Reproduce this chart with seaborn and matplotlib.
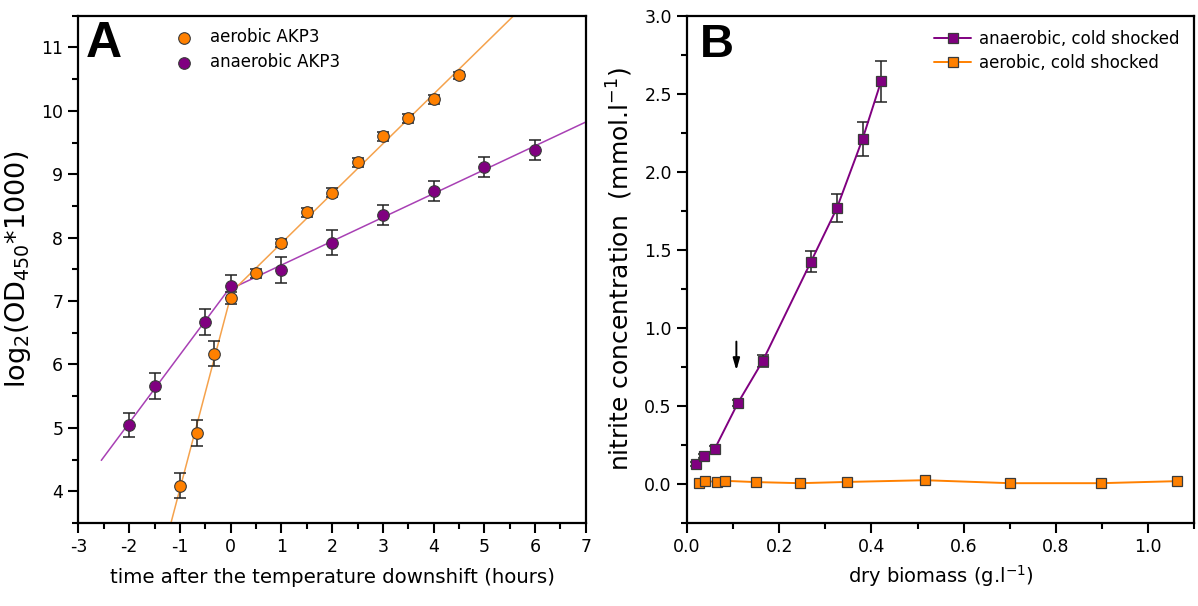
import numpy as np
import pandas as pd
import matplotlib
matplotlib.use("Agg")
import matplotlib.pyplot as plt
from matplotlib.ticker import MultipleLocator, FormatStrFormatter
import seaborn as sns

# ---------------- data: panel A ----------------
aer_time = [-1.0, -0.667, -0.333, 0.0, 0.5, 1.0, 1.5, 2.0, 2.5, 3.0, 3.5, 4.0, 4.5]
aer_log2 = [4.09, 4.92, 6.17, 7.05, 7.44, 7.92, 8.40, 8.71, 9.19, 9.60, 9.88, 10.18, 10.56]
aer_err = [0.20, 0.20, 0.20, 0.09, 0.07, 0.06, 0.07, 0.07, 0.07, 0.07, 0.07, 0.07, 0.06]

ana_time = [-2.0, -1.5, -0.5, 0.0, 1.0, 2.0, 3.0, 4.0, 5.0, 6.0]
ana_log2 = [5.05, 5.66, 6.67, 7.23, 7.49, 7.92, 8.36, 8.74, 9.12, 9.38]
ana_err = [0.19, 0.20, 0.20, 0.18, 0.20, 0.20, 0.16, 0.16, 0.16, 0.16]

# ---------------- data: panel B ----------------
anb_biomass = [0.019, 0.037, 0.060, 0.110, 0.164, 0.269, 0.325, 0.381, 0.421]
anb_nitrite = [0.128, 0.180, 0.224, 0.517, 0.787, 1.425, 1.767, 2.212, 2.580]
anb_err = [0.015, 0.015, 0.02, 0.02, 0.04, 0.07, 0.09, 0.11, 0.13]

aeb_biomass = [0.026, 0.038, 0.064, 0.083, 0.149, 0.245, 0.348, 0.516, 0.700, 0.898, 1.063]
aeb_nitrite = [0.005, 0.020, 0.013, 0.020, 0.012, 0.005, 0.013, 0.024, 0.005, 0.005, 0.018]

ORANGE = "#FF8000"
PURPLE = "#800080"
ORANGE_LINE = "#F5A24C"
PURPLE_LINE = "#A840B4"
EDGE = "#3a3a3a"

sns.set_style("ticks")
plt.rcParams["font.family"] = ["DejaVu Sans"]
plt.rcParams["mathtext.fontset"] = "dejavusans"
plt.rcParams["axes.unicode_minus"] = False
plt.rcParams["text.color"] = "black"
plt.rcParams["axes.labelcolor"] = "black"
plt.rcParams["xtick.color"] = "black"
plt.rcParams["ytick.color"] = "black"

fig = plt.figure(figsize=(11.98, 6.06), dpi=100)
axA = fig.add_axes([0.0655, 0.137, 0.4235, 0.837])
axB = fig.add_axes([0.5735, 0.137, 0.4232, 0.837])

def style_axes(ax):
    for s in ax.spines.values():
        s.set_linewidth(1.6)
        s.set_color("black")
    ax.tick_params(which="major", direction="out", length=7, width=1.5,
                   labelsize=12.5, colors="black", pad=4)
    ax.tick_params(which="minor", direction="out", length=4, width=1.5)
    ax.tick_params(top=False, right=False, which="both")

# ---------------- panel A ----------------
dfA_aer = pd.DataFrame({"t": aer_time, "y": aer_log2, "e": aer_err})
dfA_ana = pd.DataFrame({"t": ana_time, "y": ana_log2, "e": ana_err})

def two_fits(df):
    left = df[df.t <= 0]
    right = df[df.t >= 0]
    p1 = np.polyfit(left.t, left.y, 1)
    p2 = np.polyfit(right.t, right.y, 1)
    xi = (p2[1] - p1[1]) / (p1[0] - p2[0])
    return p1, p2, xi

fit_x_start_ana = -2.55
fit_x_start_aer = -1.6
fit_x_end = 7.0

for df, col, x0 in [(dfA_ana, PURPLE_LINE, fit_x_start_ana), (dfA_aer, ORANGE_LINE, fit_x_start_aer)]:
    p1, p2, xi = two_fits(df)
    xs1 = np.linspace(x0, xi, 50)
    xs2 = np.linspace(xi, fit_x_end, 50)
    seg = pd.DataFrame({"x": np.r_[xs1, xs2],
                        "y": np.r_[np.polyval(p1, xs1), np.polyval(p2, xs2)]})
    sns.lineplot(data=seg, x="x", y="y", ax=axA, color=col, lw=1.1,
                 sort=False, estimator=None, zorder=2)

for df, col, lab in [(dfA_aer, ORANGE, "aerobic AKP3"), (dfA_ana, PURPLE, "anaerobic AKP3")]:
    axA.errorbar(df.t, df.y, yerr=df.e, fmt="none", ecolor="#222222",
                 elinewidth=1.1, capsize=4, capthick=1.1, zorder=3)
    sns.scatterplot(data=df, x="t", y="y", ax=axA, color=col, s=70,
                    edgecolor=EDGE, linewidth=0.8, label=lab, zorder=4)

axA.set_xlim(-3, 7)
axA.set_ylim(3.5, 11.5)
axA.xaxis.set_major_locator(MultipleLocator(1))
axA.xaxis.set_minor_locator(MultipleLocator(0.5))
axA.yaxis.set_major_locator(MultipleLocator(1))
axA.yaxis.set_minor_locator(MultipleLocator(0.5))
style_axes(axA)
axA.set_yticks(range(4, 12))
axA.set_xlabel("time after the temperature downshift (hours)", fontsize=14.2, va="top")
axA.xaxis.set_label_coords(0.5, -0.088)
axA.set_ylabel(r"log$_2$(OD$_{450}$*1000)", fontsize=19.5, labelpad=6)
legA = axA.legend(loc="upper left", bbox_to_anchor=(0.15, 1.0), frameon=False,
                  fontsize=12, handletextpad=0.6, labelspacing=0.4, borderaxespad=0.35)
axA.text(0.015, 0.99, "A", transform=axA.transAxes, fontsize=36,
         fontweight="bold", family="Liberation Sans", va="top", ha="left")

# ---------------- panel B ----------------
dfB_ana = pd.DataFrame({"b": anb_biomass, "n": anb_nitrite, "e": anb_err})
dfB_aer = pd.DataFrame({"b": aeb_biomass, "n": aeb_nitrite})

axB.errorbar(dfB_ana.b, dfB_ana.n, yerr=dfB_ana.e, fmt="none", ecolor="#222222",
             elinewidth=1.1, capsize=4, capthick=1.1, zorder=3)
sns.lineplot(data=dfB_ana, x="b", y="n", ax=axB, color=PURPLE, lw=1.4,
             marker="s", markersize=6.5, markerfacecolor=PURPLE,
             markeredgecolor=EDGE, markeredgewidth=0.9,
             label="anaerobic, cold shocked", zorder=4)
sns.lineplot(data=dfB_aer, x="b", y="n", ax=axB, color=ORANGE, lw=1.4,
             marker="s", markersize=6.5, markerfacecolor=ORANGE,
             markeredgecolor=EDGE, markeredgewidth=0.9,
             label="aerobic, cold shocked", zorder=4)

axB.annotate("", xy=(0.107, 0.71), xytext=(0.107, 0.93),
             arrowprops=dict(arrowstyle="-|>,head_width=0.2,head_length=0.7",
                             color="black", lw=1.4))

axB.set_xlim(0, 1.1)
axB.set_ylim(-0.25, 3.0)
axB.xaxis.set_major_locator(MultipleLocator(0.2))
axB.xaxis.set_minor_locator(MultipleLocator(0.1))
axB.yaxis.set_major_locator(MultipleLocator(0.5))
axB.yaxis.set_minor_locator(MultipleLocator(0.25))
axB.xaxis.set_major_formatter(FormatStrFormatter("%.1f"))
axB.yaxis.set_major_formatter(FormatStrFormatter("%.1f"))
style_axes(axB)
axB.set_xlabel(r"dry biomass (g.l$^{-1}$)", fontsize=14, va="top")
axB.xaxis.set_label_coords(0.5, -0.08)
axB.set_ylabel(r"nitrite concentration  (mmol.l$^{-1}$)", fontsize=18, labelpad=7)
legB = axB.legend(loc="upper right", frameon=False, fontsize=12,
                  handlelength=2.2, handletextpad=0.5, labelspacing=0.35,
                  borderaxespad=0.45)
axB.text(0.025, 0.985, "B", transform=axB.transAxes, fontsize=34,
         fontweight="bold", family="Liberation Sans", va="top", ha="left")

fig.savefig("out.png", dpi=100)
